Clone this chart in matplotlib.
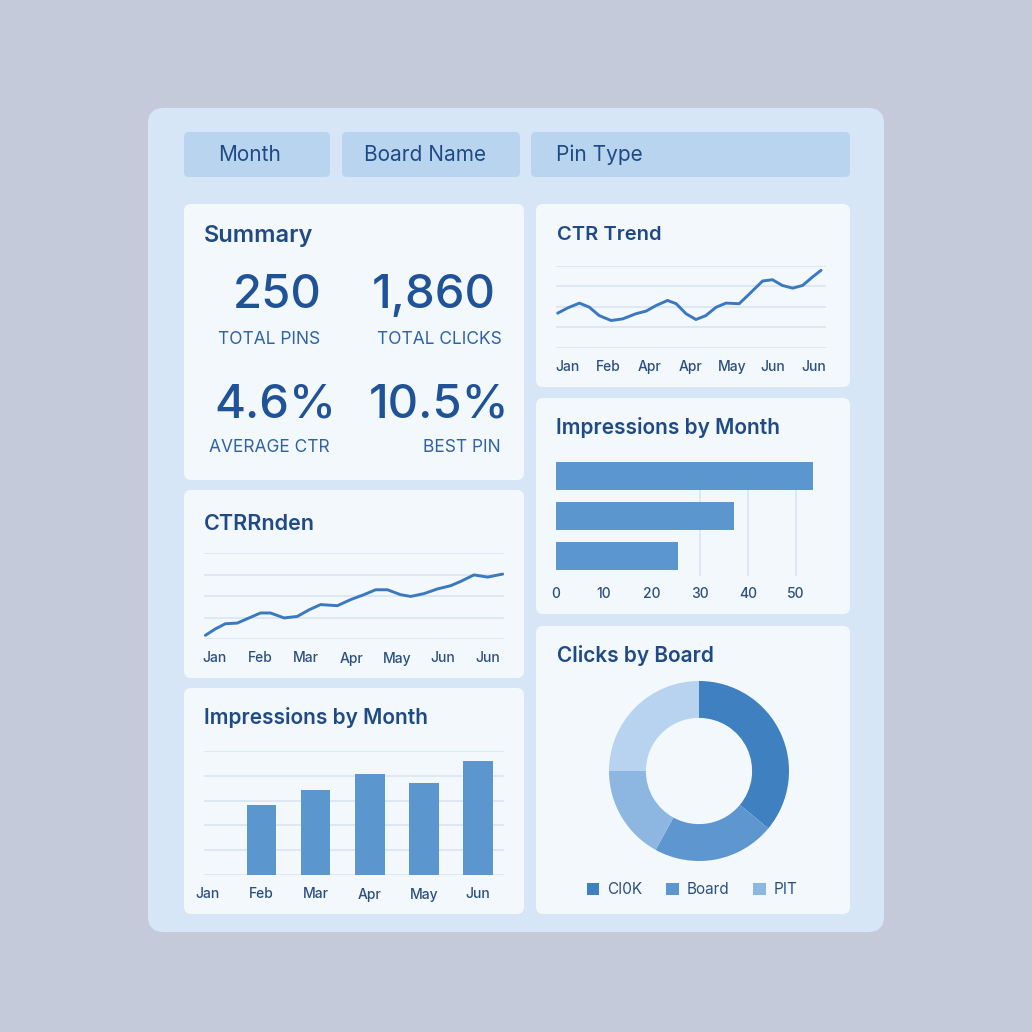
import matplotlib
matplotlib.use("Agg")
import matplotlib.pyplot as plt
from matplotlib.patches import FancyBboxPatch

plt.rcParams['font.family'] = ['Inter', 'DejaVu Sans']

# ---- data ----
filters = ["Month", "Board Name", "Pin Type"]

kpi_values = ["250", "1,860", "4.6%", "10.5%"]
kpi_labels = ["TOTAL PINS", "TOTAL CLICKS", "AVERAGE CTR", "BEST PIN"]

trend_ticks = ["Jan", "Feb", "Apr", "Apr", "May", "Jun", "Jun"]
trend_x = [-0.23, 0.02, 0.30, 0.54, 0.78, 1.07, 1.35, 1.67, 1.92, 2.16, 2.44, 2.65, 2.89,
           3.13, 3.37, 3.62, 3.86, 4.18, 4.43, 4.75, 4.99, 5.23, 5.48, 5.72, 5.96, 6.17]
trend_y = [1.70, 1.96, 2.19, 1.99, 1.58, 1.34, 1.42, 1.67, 1.80, 2.07, 2.32, 2.16, 1.67,
           1.39, 1.58, 1.99, 2.19, 2.16, 2.64, 3.27, 3.33, 3.05, 2.92, 3.05, 3.46, 3.79]

rnden_ticks = ["Jan", "Feb", "Mar", "Apr", "May", "Jun", "Jun"]
rnden_x = [-0.21, 0.01, 0.23, 0.49, 0.75, 1.00, 1.22, 1.52, 1.81, 2.07, 2.32, 2.69, 2.98,
           3.27, 3.53, 3.79, 4.08, 4.30, 4.59, 4.89, 5.18, 5.40, 5.69, 5.99, 6.32]
rnden_y = [0.17, 0.47, 0.71, 0.74, 0.98, 1.21, 1.21, 0.98, 1.05, 1.36, 1.60, 1.55, 1.83,
           2.06, 2.29, 2.29, 2.06, 1.98, 2.11, 2.33, 2.48, 2.68, 2.98, 2.88, 3.02]

hbar_values = [53.5, 37.0, 25.5]
hbar_ticks = [0, 10, 20, 30, 40, 50]

vbar_months = ["Jan", "Feb", "Mar", "Apr", "May", "Jun"]
vbar_values = [0, 2.82, 3.43, 4.07, 3.71, 4.60]

donut_labels = ["CI0K", "Board", "PIT", ""]
donut_values = [36, 22, 17, 25]

# ---- style ----
W = H = 1032
BG = "#c4cada"
PANEL = "#d6e6f7"
FILTER = "#b8d4ef"
CARD = "#f3f8fd"
NAVY = "#1f4a86"
TICK = "#2c4f80"
LINE = "#3a78bf"
BAR = "#5b96cf"
GRID = "#dbe7f3"
DONUT = ["#3f80c1", "#5e96d0", "#8db6e1", "#b7d3ef"]

fig = plt.figure(figsize=(W / 100, H / 100), dpi=100)
fig.patch.set_facecolor(BG)

# background layer in pixel coordinates
bg = fig.add_axes([0, 0, 1, 1])
bg.set_xlim(0, W)
bg.set_ylim(H, 0)
bg.axis("off")


def box(x0, y0, x1, y1, color, r):
    bg.add_patch(FancyBboxPatch((x0, y0), x1 - x0, y1 - y0,
                                boxstyle=f"round,pad=0,rounding_size={r}",
                                fc=color, ec="none"))


def px_axes(x0, y0, x1, y1):
    return fig.add_axes([x0 / W, 1 - y1 / H, (x1 - x0) / W, (y1 - y0) / H])


box(148, 108, 884, 932, PANEL, 16)

# filter pills
for (x0, x1), lab, tx in zip([(184, 330), (342, 520), (531, 850)], filters, [218, 364, 556]):
    box(x0, 132, x1, 177, FILTER, 5)
    bg.text(tx, 155, lab, fontsize=15, color=NAVY, va="center", ha="left")

# cards
cards = [(184, 204, 524, 480), (536, 204, 850, 387), (536, 398, 850, 614),
         (184, 490, 524, 678), (184, 688, 524, 914), (536, 626, 850, 914)]
for c in cards:
    box(*c, CARD, 7)

titles = [("Summary", 204, 236, 17), ("CTR Trend", 557, 235, 14.5),
          ("Impressions by Month", 556, 427, 15), ("CTRRnden", 204, 524, 15.5),
          ("Impressions by Month", 204, 718, 15), ("Clicks by Board", 557, 655, 15)]
for t, x, y, fs in titles:
    bg.text(x, y, t, fontsize=fs, fontweight="semibold", color=NAVY, va="center", ha="left")

# summary KPIs
num_pos = [(277, 296, "center"), (434, 296, "center"), (275, 406, "center"), (439, 406, "center")]
lab_pos = [(269, 340, "center"), (439, 340, "center"), (269, 447, "center"), (501, 447, "right")]
for v, (x, y, ha) in zip(kpi_values, num_pos):
    bg.text(x, y, v, fontsize=34, fontweight="medium", color="#1f5297", ha=ha, va="center")
for l, (x, y, ha) in zip(kpi_labels, lab_pos):
    bg.text(x, y, l, fontsize=12.5, color="#2f62a6", ha=ha, va="center")


def style_line_axes(ax, ticks):
    ax.set_facecolor("none")
    ax.set_ylim(0, 4)
    ax.set_yticks(range(5))
    ax.set_yticklabels([])
    ax.grid(axis="y", color=GRID, lw=1.3)
    ax.set_axisbelow(True)
    ax.set_xticks(range(len(ticks)))
    ax.set_xticklabels(ticks, fontsize=10, color=TICK, fontweight="medium")
    ax.tick_params(length=0, pad=9)
    for s in ax.spines.values():
        s.set_visible(False)


# CTR Trend
ax = px_axes(556, 266, 826, 348)
ax.plot(trend_x, trend_y, color=LINE, lw=2.1, solid_capstyle="round", solid_joinstyle="round")
ax.set_xlim(-0.27, 6.29)
style_line_axes(ax, trend_ticks)

# CTRRnden
ax = px_axes(204, 553, 504, 639)
ax.plot(rnden_x, rnden_y, color=LINE, lw=2.1, solid_capstyle="round", solid_joinstyle="round")
ax.set_xlim(-0.24, 6.35)
style_line_axes(ax, rnden_ticks)

# horizontal bars
ax = px_axes(556, 456, 826, 576)
ax.set_facecolor("none")
ax.vlines([30, 40, 50], 0.35, 2.5, color=GRID, lw=1.3, zorder=0)
ax.barh(range(len(hbar_values)), hbar_values, height=0.7, color=BAR, zorder=2)
ax.set_xlim(0, 56.25)
ax.set_ylim(2.5, -0.5)
ax.set_yticks([])
ax.set_xticks(hbar_ticks)
ax.set_xticklabels([str(t) for t in hbar_ticks], fontsize=10, color=TICK, fontweight="medium")
ax.tick_params(length=0, pad=8)
for s in ax.spines.values():
    s.set_visible(False)

# vertical bars
ax = px_axes(204, 751, 504, 875)
ax.set_facecolor("none")
ax.bar(range(len(vbar_values)), vbar_values, width=0.545, color=BAR, zorder=2)
ax.set_ylim(0, 5)
ax.set_yticks(range(6))
ax.set_yticklabels([])
ax.grid(axis="y", color=GRID, lw=1.3)
ax.set_axisbelow(True)
ax.set_xlim(-0.063, 5.48)
ax.set_xticks(range(len(vbar_months)))
ax.set_xticklabels(vbar_months, fontsize=10, color=TICK, fontweight="medium")
ax.tick_params(length=0, pad=9)
for s in ax.spines.values():
    s.set_visible(False)

# donut
ax = px_axes(599, 671, 799, 871)
wedges, _ = ax.pie(donut_values, colors=DONUT, startangle=90, counterclock=False,
                   radius=1, wedgeprops=dict(width=0.41, edgecolor="none", linewidth=0))
ax.set_xlim(-1.111, 1.111)
ax.set_ylim(-1.111, 1.111)
ax.set_aspect("equal")
fig.legend(wedges[:3], donut_labels[:3], loc="center", bbox_to_anchor=(692 / W, 1 - 890 / H),
           ncol=3, frameon=False, fontsize=11, labelcolor=TICK, handlelength=0.8,
           handleheight=0.8, handletextpad=0.5, columnspacing=1.6)

fig.savefig("out.png", dpi=100, facecolor=BG)
